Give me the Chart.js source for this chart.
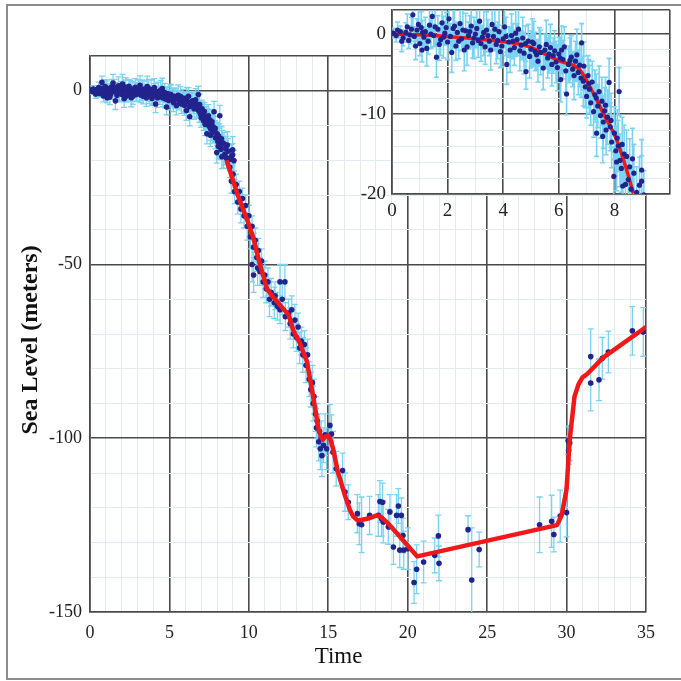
<!DOCTYPE html>
<html>
<head>
<meta charset="utf-8">
<script src="https://cdn.jsdelivr.net/npm/chart.js@4.4.1/dist/chart.umd.min.js"></script>
<style>
  body { margin: 0; background: #fff; overflow: hidden; }
  #wrap { position: relative; width: 681px; height: 681px; }
  #mainChart { position: absolute; left: 0; top: 0; }
  #zoomChart { position: absolute; left: 352px; top: 0; }
  #frame {
    position: absolute; left: 6px; top: 4px; width: 700px; height: 672px;
    border: 2px solid #8c8c8c; pointer-events: none;
  }
</style>
</head>
<body>
<div id="wrap">
  <canvas id="mainChart" width="681" height="681"></canvas>
  <canvas id="zoomChart" width="329" height="222"></canvas>
  <div id="frame"></div>
</div>
<script>
var xTitle = "Time";
var yTitle = "Sea Level (meters)";

// early part of the record (also shown in the inset)
var earlyTime = [0.05, 0.15, 0.3, 0.4, 0.5, 0.6, 0.7, 0.75, 0.8, 0.9, 1.0, 1.05, 1.08, 1.15, 1.2, 1.3, 1.35, 1.45, 1.5, 1.6,
  1.65, 1.75, 1.8, 1.9, 2.0, 2.05, 2.1, 2.2, 2.3, 2.35, 2.45, 2.5, 2.6, 2.65, 2.75, 2.85, 2.9, 3.0, 3.1, 3.15,
  3.25, 3.35, 3.4, 3.5, 3.6, 3.65, 3.75, 3.85, 3.9, 4.0, 4.05, 4.13, 4.2, 4.3, 4.4, 4.5, 4.55, 4.65, 4.75, 4.82,
  4.9, 5.0, 5.1, 5.2, 5.3, 5.44, 5.5, 5.6, 5.7, 5.8, 5.9, 6.0, 6.07, 6.15, 6.2, 6.28, 6.35, 6.45, 6.5, 6.6,
  6.7, 6.82, 6.8, 6.9, 6.95, 7.0, 7.05, 7.1, 7.15, 7.2, 7.3, 7.36, 7.4, 7.45, 7.5, 7.55, 7.6, 7.65, 7.7, 7.75,
  7.81, 7.85, 7.9, 7.98, 8.0, 8.05, 8.1, 8.14, 8.17, 8.2, 8.25, 8.3, 8.35, 8.44, 8.5, 8.55, 8.6, 8.7, 8.8, 8.98,
  8.98, 9.06,
  0.2, 0.35, 0.55, 0.65, 0.85, 0.95, 1.1, 1.25, 1.4, 1.55, 1.7, 1.85, 1.95, 2.15, 2.25, 2.4, 2.55, 2.7, 2.8, 2.95,
  3.05, 3.2, 3.3, 3.45, 3.55, 3.7, 3.8, 3.95, 4.1, 4.25, 4.35, 4.45, 4.6, 4.7, 4.8, 4.95, 5.05, 5.15, 5.25, 5.35,
  5.55, 5.65, 5.75, 5.85, 5.95, 6.05, 6.1, 6.25, 6.4, 6.55, 6.65, 6.75, 6.88, 7.08, 7.25, 7.35, 7.58, 7.68, 7.88, 8.08,
  8.28, 8.4, 8.65, 8.9];
var earlyLevel = [0.1, -0.2, 0.3, -0.5, 0.2, -0.8, 0.6, 2.4, -0.3, 0.5, -1.2, 0.8, -2.0, -0.4, 0.3, -0.9, 1.1, 2.2, -0.2, -2.9,
  0.6, -0.7, 1.4, 0.1, -1.0, 1.9, -0.3, 0.7, -1.5, 0.2, 1.3, -0.6, -2.0, 0.4, -0.2, 1.0, -1.1, 0.0, -0.8, 1.6,
  -0.4, -1.6, 0.5, -0.9, 1.2, -0.3, -1.3, 0.3, -2.2, -0.6, 0.9, -3.8, -1.0, -0.2, -1.7, -0.7, 0.6, -1.4, -2.4, -4.7,
  -0.9, -1.9, -1.2, -2.6, -1.6, -4.25, -2.0, -3.0, -1.7, -2.7, -3.5, -2.5, -5.7, -3.2, -1.6, -7.5, -3.8, -2.9, -4.4, -3.4,
  -4.8, -1.1, -5.5, -4.0, -6.6, -7.8, -5.2, -6.9, -8.6, -6.0, -7.6, -12.4, -9.0, -7.2, -10.2, -8.4, -11.0, -9.6, -12.0, -10.4,
  -6.05, -11.6, -13.5, -17.8, -12.4, -14.6, -13.0, -14.0, -7.2, -15.8, -16.8, -19.0, -15.0, -15.3, -18.2, -16.6, -19.4, -17.4, -19.8, -17.0,
  -18.4, -20.1,
  0.5, -0.9, 0.9, -0.1, -1.5, 1.2, 0.2, -1.8, 0.0, 0.9, -1.3, -0.4, 0.8, -2.3, 1.0, -0.9, 0.5, -1.6, 0.3, -0.5,
  0.7, -1.2, 0.2, -0.2, -2.0, 0.6, -0.8, -1.5, -0.3, -2.0, -0.9, 0.1, -2.1, -0.5, -1.2, -2.8, -1.0, -2.2, -3.4, -2.3,
  -1.3, -2.5, -3.8, -2.1, -4.2, -3.0, -2.0, -4.6, -3.3, -5.2, -2.6, -3.9, -5.9, -6.2, -9.7, -8.0, -12.8, -8.9, -10.8, -16.0,
  -13.8, -18.8, -15.6, -18.9];
var earlyError = [0.6, 0.8, 0.7, 1.0, 1.2, 1.0, 1.5, 1.8, 1.2, 1.4, 1.5, 2.0, 1.5, 1.3, 1.8, 1.6, 2.2, 2.5, 1.4, 2.5,
  1.7, 2.0, 2.6, 1.5, 2.2, 2.8, 1.6, 2.4, 1.8, 1.3, 2.0, 1.5, 2.6, 2.2, 1.7, 2.5, 1.9, 1.6, 2.1, 2.7,
  1.5, 2.2, 2.3, 1.8, 3.0, 1.6, 2.4, 2.8, 2.0, 1.7, 2.6, 2.5, 1.9, 2.7, 2.2, 2.0, 3.0, 1.8, 2.6, 2.2,
  2.1, 2.3, 2.8, 1.9, 2.4, 2.7, 2.0, 2.5, 2.9, 2.2, 2.6, 2.1, 2.8, 2.4, 2.5, 2.6, 2.3, 2.7, 2.2, 2.5,
  2.8, 2.4, 2.4, 3.0, 2.6, 2.7, 2.5, 3.0, 2.8, 2.6, 3.1, 2.9, 2.7, 3.2, 2.8, 3.0, 3.3, 2.9, 3.1, 3.4,
  3.0, 3.0, 3.2, 3.0, 3.3, 3.1, 3.5, 3.2, 3.0, 3.3, 3.0, 3.4, 3.6, 3.3, 3.1, 3.5, 3.0, 3.6, 3.2, 3.8,
  3.2, 3.0,
  1.0, 1.3, 1.6, 1.1, 1.7, 2.0, 1.5, 2.2, 1.8, 2.4, 2.0, 2.6, 1.9, 2.5, 2.8, 2.2, 2.5, 2.3, 2.0, 2.6,
  2.4, 2.2, 2.9, 2.0, 2.5, 2.7, 2.3, 2.6, 2.4, 2.8, 2.2, 2.9, 2.5, 2.6, 2.2, 2.7, 2.9, 2.4, 2.6, 2.8,
  3.0, 2.4, 2.7, 2.5, 2.9, 2.6, 3.0, 2.7, 2.8, 3.0, 3.2, 2.7, 3.1, 3.0, 3.2, 3.0, 3.3, 3.5, 3.4, 3.6,
  3.4, 3.5, 3.8, 3.5];

// rest of the record, main chart only
var lateTime = [8.8, 8.9, 9.0, 9.1, 9.2, 9.3, 9.4, 9.5, 9.6, 9.7, 9.8, 9.9, 10.0, 10.1, 10.2, 10.3, 10.4, 10.5, 10.55, 10.2,
  10.3, 10.6, 10.7, 10.8, 10.9, 11.0, 11.1, 11.2, 11.3, 11.4, 11.6, 11.65, 11.8, 11.96, 11.96, 12.1, 12.27, 12.3, 12.5, 12.6,
  12.7, 12.8, 12.9, 13.0, 13.1, 13.2, 13.3, 13.4, 13.5, 13.6, 13.7, 13.8, 13.9, 14.0, 14.05, 14.1, 14.2, 14.25, 14.3, 14.4,
  14.45, 14.5, 14.55, 14.6, 14.7, 14.8, 14.9, 15.1, 15.2, 15.3, 15.5, 15.9, 16.05, 16.26, 16.83, 16.95, 17.1, 17.6, 18.15, 18.25,
  18.42, 18.36, 18.46, 18.78, 18.88, 19.1, 19.3, 19.41, 19.5, 19.6, 19.7, 19.75, 20.0, 20.4, 20.56, 21.0, 21.7, 21.93, 21.97, 23.8,
  24.03, 24.5, 28.3, 29.06, 29.2, 29.6, 30.0, 30.1, 30.2, 30.13, 31.52, 31.52, 32.04, 32.25, 32.63, 34.14, 34.83];
var lateLevel = [-22, -26, -24, -29, -27, -32, -29, -34, -31, -36, -33, -39, -36, -42, -39, -45, -43, -48, -51, -50,
  -53, -46, -52, -49, -55, -53, -57, -55, -60, -58, -61, -59, -62, -55, -63, -60, -55, -65, -64, -67,
  -63, -70, -66, -71, -68, -74, -72, -76, -73, -79, -76, -83, -86, -84, -90, -88, -93, -97, -95, -101,
  -98, -103, -100, -105, -102, -99, -103, -96.3, -98.8, -104, -108.8, -109.3, -115.5, -118.4, -121.7, -124.6, -124.9, -122.2, -122.2, -118.2,
  -118.4, -123.2, -124.1, -125.5, -121.2, -131.3, -122.2, -119.5, -132.2, -122.2, -128, -132.2, -131.8, -141.5, -137.7, -135.6, -133.7, -128.1, -136, -126.3,
  -140.8, -132, -124.9, -123.9, -127.7, -122.4, -121.4, -100.7, -101.4, -103.5, -76.5, -84.1, -83.2, -77, -75.2, -69.1, -69.4];
var lateError = [3, 3.5, 3, 3.5, 3, 3.5, 3, 4, 3, 3.5, 3, 4, 3, 3.5, 3, 4, 3.5, 4, 5, 5,
  5, 3.5, 4, 3.5, 4.5, 4, 4, 4, 5, 4, 4.5, 4, 4, 5, 4, 4.5, 5, 4, 4, 4.5,
  4, 4, 4.5, 4, 4, 4.5, 4, 5, 4, 5, 4.5, 5, 5, 5, 5, 5, 5, 5.5, 5, 5.5,
  5, 6, 5, 6, 5, 6, 6, 6, 5.5, 6, 5, 5, 5.5, 5, 5.5, 6, 8, 5.5, 6, 6,
  5.5, 5, 6, 5, 5, 5, 6, 5, 5, 5, 5, 5.5, 6, 6, 7, 6, 5, 6, 5, 4,
  15, 5, 8, 7.5, 5, 7.5, 7, 4, 5, 4, 8, 8, 6, 6, 6, 7, 7];

// fitted curves
var fitTime = [8.6, 9.3, 10.0, 10.26, 10.7, 11.14, 11.5, 11.8, 12.5, 12.8, 13.2, 13.66, 14.05, 14.37, 14.55, 14.67, 14.85, 15.0, 15.15, 15.3,
  15.6, 16.05, 16.35, 16.56, 16.8, 17.0, 17.5, 18.06, 18.3, 18.7, 19.5, 20.6, 29.4, 29.7, 30.0, 30.2, 30.5, 30.75, 31.0, 31.3,
  32.3, 35.0];
var fitLevel = [-20, -30, -38.5, -42, -50, -57, -59.2, -60.8, -64.5, -69, -72.5, -78, -88, -97, -99.8, -100.4, -99.4, -99.3, -100.5, -103,
  -109.6, -116.5, -120.5, -122.5, -123.5, -123.6, -123.1, -122.2, -122.6, -124.2, -128.3, -134, -125, -122, -114.6, -100.3, -88, -84.5, -82.5, -81.5,
  -76.8, -68];
var zoomFitTime = [0, 1, 2, 3, 4, 4.85, 5.32, 6.04, 6.76, 7.18, 7.6, 8.08, 8.44, 8.68];
var zoomFitLevel = [0, -0.1, -0.3, -0.6, -0.95, -1.5, -2.2, -3.4, -4.5, -7.0, -9.9, -13.2, -17.0, -19.9];

var dotColor = "#23238e";
var barColor = "#7ad3f3";
var fitColor = "#f01818";
var majorGrid = "#4a4a4a";
var minorGrid = "#e2ebf0";
var tickFont = { family: "'Liberation Serif', serif", size: 18 };

function toPoints(xs, ys) {
  var out = [];
  for (var i = 0; i < xs.length; i++) {
    out.push({ x: xs[i], y: ys[i] });
  }
  return out;
}

// vertical error bars with caps, drawn under the dots
var errorBars = {
  id: "errorBars",
  beforeDatasetsDraw: function (chart, args, opts) {
    var ctx = chart.ctx;
    var area = chart.chartArea;
    var xs = chart.scales.x;
    var ys = chart.scales.y;
    ctx.save();
    ctx.beginPath();
    ctx.rect(area.left, area.top, area.right - area.left, area.bottom - area.top);
    ctx.clip();
    ctx.strokeStyle = barColor;
    ctx.lineWidth = opts.width || 1.3;
    var cap = opts.cap || 3;
    chart.data.datasets.forEach(function (ds) {
      if (!ds.errors) return;
      ctx.beginPath();
      ds.data.forEach(function (p, i) {
        var px = xs.getPixelForValue(p.x);
        var top = ys.getPixelForValue(p.y + ds.errors[i]);
        var bot = ys.getPixelForValue(p.y - ds.errors[i]);
        ctx.moveTo(px, top);
        ctx.lineTo(px, bot);
        ctx.moveTo(px - cap, top);
        ctx.lineTo(px + cap, top);
        ctx.moveTo(px - cap, bot);
        ctx.lineTo(px + cap, bot);
      });
      ctx.stroke();
    });
    ctx.restore();
  },
};

var whiteArea = {
  id: "whiteArea",
  beforeDraw: function (chart) {
    var a = chart.chartArea;
    chart.ctx.save();
    chart.ctx.fillStyle = "#fff";
    chart.ctx.fillRect(a.left, a.top, a.right - a.left, a.bottom - a.top);
    chart.ctx.restore();
  },
};

var axisTitles = {
  id: "axisTitles",
  afterDraw: function (chart) {
    var ctx = chart.ctx;
    ctx.save();
    ctx.fillStyle = "#111";
    ctx.textAlign = "center";
    ctx.textBaseline = "middle";
    ctx.font = "23px 'Liberation Serif', serif";
    ctx.fillText(xTitle, chart.width / 2 - 2, 657);
    ctx.translate(31, 340);
    ctx.rotate(-Math.PI / 2);
    ctx.font = "bold 24px 'Liberation Serif', serif";
    ctx.fillText(yTitle, 0, 0);
    ctx.restore();
  },
};

function gridStyle(isMajor) {
  return {
    color: function (c) { return isMajor(c.tick.value) ? majorGrid : minorGrid; },
    lineWidth: function (c) { return isMajor(c.tick.value) ? 1.6 : 1; },
    drawTicks: false,
  };
}

// drop the room Chart.js keeps for half labels at the axis ends
function noEndPadding(s) {
  s.paddingTop = 0;
  s.paddingBottom = 0;
  s.paddingLeft = 0;
  s.paddingRight = 0;
}

var mainChart = new Chart(document.getElementById("mainChart"), {
  type: "scatter",
  data: {
    datasets: [
      {
        type: "line",
        data: toPoints(fitTime, fitLevel),
        borderColor: fitColor,
        borderWidth: 4.5,
        borderJoinStyle: "round",
        pointRadius: 0,
        tension: 0,
        order: 0,
      },
      {
        data: toPoints(earlyTime.concat(lateTime), earlyLevel.concat(lateLevel)),
        errors: earlyError.concat(lateError),
        backgroundColor: dotColor,
        borderWidth: 0,
        pointRadius: 2.8,
        order: 1,
      },
    ],
  },
  options: {
    responsive: false,
    animation: false,
    layout: { padding: { top: 56, right: 35, left: 0, bottom: 0 } },
    plugins: {
      legend: { display: false },
      tooltip: { enabled: false },
      errorBars: { width: 1.3, cap: 3 },
    },
    scales: {
      x: {
        type: "linear",
        min: 0,
        max: 35,
        ticks: {
          stepSize: 1,
          autoSkip: false,
          maxRotation: 0,
          padding: 10,
          color: "#222",
          font: tickFont,
          callback: function (v) { return v % 5 === 0 ? v : ""; },
        },
        grid: gridStyle(function (v) { return v % 5 === 0; }),
        border: { color: majorGrid, width: 1.6 },
        afterFit: function (s) { s.height = 69; },
      },
      y: {
        min: -150,
        max: 10,
        ticks: {
          stepSize: 10,
          autoSkip: false,
          padding: 8,
          color: "#222",
          font: tickFont,
          callback: function (v) { return v % 50 === 0 ? v : ""; },
        },
        grid: gridStyle(function (v) { return v % 50 === 0 || v === 10; }),
        border: { color: majorGrid, width: 1.6 },
        afterFit: function (s) { s.width = 90; },
      },
    },
  },
  plugins: [errorBars, axisTitles],
});

var zoomChart = new Chart(document.getElementById("zoomChart"), {
  type: "scatter",
  data: {
    datasets: [
      {
        type: "line",
        data: toPoints(zoomFitTime, zoomFitLevel),
        borderColor: fitColor,
        borderWidth: 3.5,
        pointRadius: 0,
        cubicInterpolationMode: "monotone",
        order: 2,
      },
      {
        data: toPoints(earlyTime, earlyLevel),
        errors: earlyError,
        backgroundColor: dotColor,
        borderWidth: 0,
        pointRadius: 2.6,
        order: 1,
      },
    ],
  },
  options: {
    responsive: false,
    animation: false,
    layout: { padding: { top: 10, right: 11, left: 0, bottom: 0 } },
    plugins: {
      legend: { display: false },
      tooltip: { enabled: false },
      errorBars: { width: 1.6, cap: 2.5 },
    },
    scales: {
      x: {
        type: "linear",
        min: 0,
        max: 10,
        ticks: {
          stepSize: 1,
          autoSkip: false,
          maxRotation: 0,
          padding: 6,
          color: "#222",
          font: { family: tickFont.family, size: 19 },
          callback: function (v) { return v % 2 === 0 && v < 10 ? v : ""; },
        },
        grid: gridStyle(function (v) { return v % 2 === 0; }),
        border: { color: majorGrid, width: 1.6 },
        afterFit: function (s) { s.height = 28; noEndPadding(s); },
      },
      y: {
        min: -20,
        max: 3,
        ticks: {
          stepSize: 2,
          autoSkip: false,
          padding: 6,
          color: "#222",
          font: { family: tickFont.family, size: 19 },
          callback: function (v) { return v % 10 === 0 ? v : ""; },
        },
        grid: gridStyle(function (v) { return v % 10 === 0 || v === 3; }),
        border: { color: majorGrid, width: 1.6 },
        afterFit: function (s) { s.width = 40; noEndPadding(s); },
      },
    },
  },
  plugins: [whiteArea, errorBars],
});
</script>
</body>
</html>
